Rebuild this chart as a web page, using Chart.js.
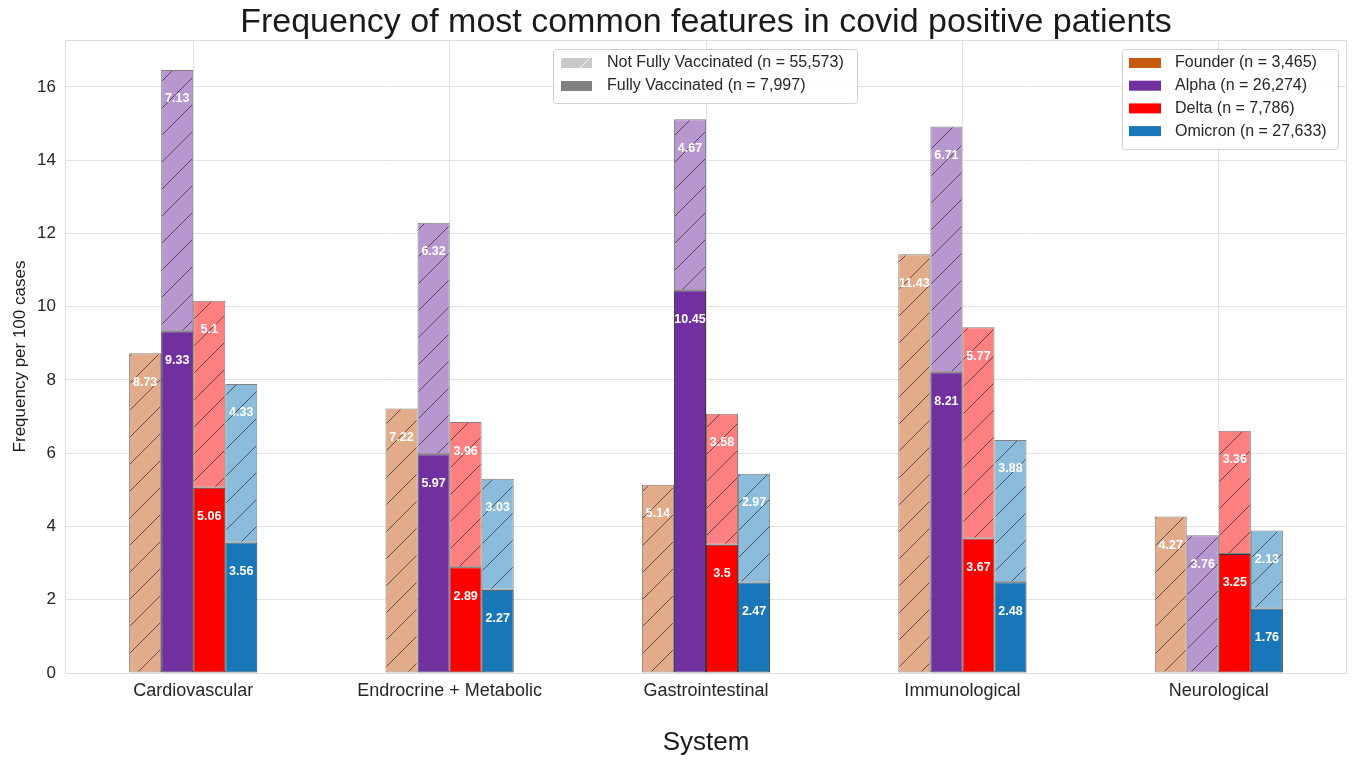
<!DOCTYPE html>
<html>
<head>
<meta charset="utf-8">
<script src="https://cdn.jsdelivr.net/npm/chart.js@4/dist/chart.umd.min.js"></script>
<style>
  body { margin: 0; background: #fff; }
  #wrap { width: 1358px; height: 760px; }
</style>
</head>
<body>
<div id="wrap"><canvas id="myChart" width="1358" height="760"></canvas></div>
<script>
const categories = ['Cardiovascular', 'Endrocrine + Metabolic', 'Gastrointestinal', 'Immunological', 'Neurological'];

// not fully vaccinated (hatched) / fully vaccinated (solid), per 100 cases
const founderNFV = [8.73, 7.22, 5.14, 11.43, 4.27];
const alphaFV    = [9.33, 5.97, 10.45, 8.21, 0];
const alphaNFV   = [7.13, 6.32, 4.67, 6.71, 3.76];
const deltaFV    = [5.06, 2.89, 3.5, 3.67, 3.25];
const deltaNFV   = [5.1, 3.96, 3.58, 5.77, 3.36];
const omicronFV  = [3.56, 2.27, 2.47, 2.48, 1.76];
const omicronNFV = [4.33, 3.03, 2.97, 3.88, 2.13];

const variantLegend = ['Founder (n = 3,465)', 'Alpha (n = 26,274)', 'Delta (n = 7,786)', 'Omicron (n = 27,633)'];
const vaccLegend = ['Not Fully Vaccinated (n = 55,573)', 'Fully Vaccinated (n = 7,997)'];

const FONT = "'Liberation Sans', Arial, Helvetica, sans-serif";
const solid = { founder: '#c55a11', alpha: '#7030a0', delta: '#ff0000', omicron: '#1777b8' };
const light = { founder: '#e2ab89', alpha: '#b797cf', delta: '#ff8080', omicron: '#8bbcdc' };

function hatch(color, line) {
    const n = 27;
    const c = document.createElement('canvas');
    c.width = n; c.height = n;
    const g = c.getContext('2d');
    g.fillStyle = color;
    g.fillRect(0, 0, n, n);
    g.strokeStyle = line || 'rgba(40,25,25,0.65)';
    g.lineWidth = 1;
    g.beginPath();
    g.moveTo(0, n); g.lineTo(n, 0);
    g.moveTo(-3, 3); g.lineTo(3, -3);
    g.moveTo(n - 3, n + 3); g.lineTo(n + 3, n - 3);
    g.stroke();
    return g.createPattern(c, 'repeat');
}

function nfv(label, data, key, stack) {
    return {
        label: label, data: data, stack: stack,
        backgroundColor: hatch(light[key]),
        borderColor: 'rgba(50,40,40,0.6)',
        borderWidth: 1, borderSkipped: false
    };
}
function fv(label, data, key, stack) {
    return {
        label: label, data: data, stack: stack,
        backgroundColor: solid[key],
        borderColor: 'rgba(30,20,20,0.85)',
        borderWidth: 1, borderSkipped: false
    };
}

const barLabels = {
    id: 'barLabels',
    afterDatasetsDraw(chart) {
        const ctx = chart.ctx;
        ctx.save();
        ctx.font = 'bold 12.5px ' + FONT;
        ctx.fillStyle = '#ffffff';
        ctx.textAlign = 'center';
        ctx.textBaseline = 'middle';
        chart.data.datasets.forEach((ds, i) => {
            chart.getDatasetMeta(i).data.forEach((bar, j) => {
                const v = ds.data[j];
                if (!v) return;
                ctx.fillText(String(v), bar.x, bar.y + 29);
            });
        });
        ctx.restore();
    }
};

function legendBox(ctx, x, y, w, h) {
    ctx.fillStyle = 'rgba(255,255,255,0.85)';
    ctx.strokeStyle = '#d0d0d0';
    ctx.lineWidth = 1;
    ctx.beginPath();
    ctx.roundRect(x + 0.5, y + 0.5, w, h, 3);
    ctx.fill();
    ctx.stroke();
}

const legends = {
    id: 'legends',
    afterDraw(chart) {
        const ctx = chart.ctx;
        const a = chart.chartArea;
        ctx.save();
        // border of plot
        ctx.strokeStyle = '#dcdcdc';
        ctx.lineWidth = 1;
        ctx.strokeRect(a.left + 0.5, a.top + 0.5, a.right - a.left - 1, a.bottom - a.top);

        ctx.font = '16px ' + FONT;
        ctx.textBaseline = 'middle';
        ctx.textAlign = 'left';

        // vaccination legend
        legendBox(ctx, 553, 49, 304, 54);
        const swatches = [hatch('#c8c8c8', 'rgba(255,255,255,0.8)'), '#808080'];
        vaccLegend.forEach((t, i) => {
            const yy = 63 + i * 23;
            ctx.fillStyle = swatches[i];
            ctx.fillRect(561, yy - 5, 31, 10);
            ctx.fillStyle = '#262626';
            ctx.fillText(t, 607, yy);
        });

        // variant legend
        legendBox(ctx, 1122, 49, 216, 100);
        const cols = [solid.founder, solid.alpha, solid.delta, solid.omicron];
        variantLegend.forEach((t, i) => {
            const yy = 63 + i * 22.7;
            ctx.fillStyle = cols[i];
            ctx.fillRect(1129, yy - 5, 32, 10);
            ctx.fillStyle = '#262626';
            ctx.fillText(t, 1175, yy);
        });
        ctx.restore();
    }
};

const config = {
    type: 'bar',
    data: {
        labels: categories,
        datasets: [
            nfv('Founder', founderNFV, 'founder', 'f'),
            fv('Alpha', alphaFV, 'alpha', 'a'),
            nfv('Alpha', alphaNFV, 'alpha', 'a'),
            fv('Delta', deltaFV, 'delta', 'd'),
            nfv('Delta', deltaNFV, 'delta', 'd'),
            fv('Omicron', omicronFV, 'omicron', 'o'),
            nfv('Omicron', omicronNFV, 'omicron', 'o')
        ]
    },
    options: {
        responsive: false,
        animation: false,
        categoryPercentage: 0.5,
        barPercentage: 1.0,
        layout: { padding: { left: 0, right: 11, top: 0, bottom: 0 } },
        plugins: {
            legend: { display: false },
            tooltip: { enabled: false },
            title: {
                display: true,
                fullSize: false,
                text: 'Frequency of most common features in covid positive patients',
                color: '#1a1a1a',
                font: { family: FONT, size: 34, weight: 'normal', lineHeight: 1.0 },
                padding: { top: 6, bottom: 0 }
            }
        },
        scales: {
            x: {
                stacked: true,
                grid: { color: '#e2e2e2', offset: false, drawTicks: false },
                border: { display: false },
                ticks: { color: '#262626', padding: 7, font: { family: FONT, size: 18 } },
                title: {
                    display: true, text: 'System', color: '#1a1a1a',
                    font: { family: FONT, size: 26 }, padding: { top: 0, bottom: 2 }
                },
                afterFit: s => { s.height = 87; }
            },
            y: {
                stacked: true,
                min: 0,
                max: 17.28,
                grid: { color: '#e2e2e2', drawTicks: false },
                border: { display: false },
                ticks: { stepSize: 2, color: '#262626', padding: 9, font: { family: FONT, size: 17 } },
                afterBuildTicks: s => { s.ticks = s.ticks.filter(t => t.value % 2 === 0); },
                title: {
                    display: true, text: 'Frequency per 100 cases', color: '#1a1a1a',
                    font: { family: FONT, size: 17 }, padding: { top: 10, bottom: 0 }
                },
                afterFit: s => { s.width = 65; }
            }
        }
    },
    plugins: [barLabels, legends]
};

const myChart = new Chart(document.getElementById('myChart'), config);
</script>
</body>
</html>
